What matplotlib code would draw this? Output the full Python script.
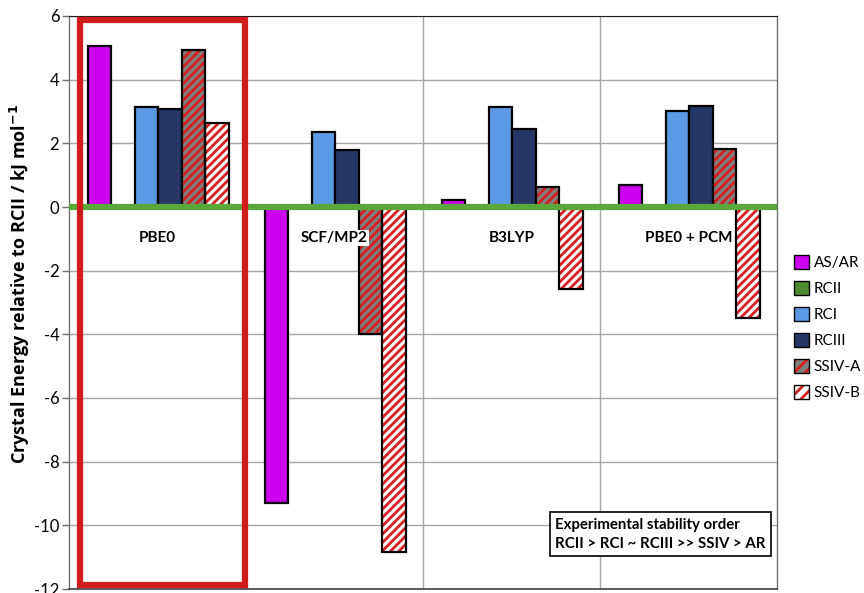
import matplotlib
matplotlib.use("Agg")
import matplotlib.pyplot as plt
import numpy as np
from matplotlib.patches import Rectangle

plt.rcParams['font.family'] = ['Lato', 'DejaVu Sans']
plt.rcParams['hatch.linewidth'] = 2.0

methods = ["PBE0", "SCF/MP2", "B3LYP", "PBE0 + PCM"]
series = ["AS/AR", "RCII", "RCI", "RCIII", "SSIV-A", "SSIV-B"]
as_ar = [5.05, -9.31, 0.22, 0.70]
rcii = [0.0, 0.0, 0.0, 0.0]
rci = [3.14, 2.36, 3.15, 3.01]
rciii = [3.08, 1.79, 2.45, 3.18]
ssiv_a = [4.92, -3.98, 0.62, 1.82]
ssiv_b = [2.64, -10.84, -2.58, -3.48]
values = [as_ar, rcii, rci, rciii, ssiv_a, ssiv_b]

yticks = [-12, -10, -8, -6, -4, -2, 0, 2, 4, 6]

fills = ["#cc00ee", "#4e8a2e", "#5b9be6", "#253865", "#7f7f7f", "#ffffff"]
hatches = [None, None, None, None, "////", "////"]
hatch_red = "#d42020"

fig = plt.figure(figsize=(8.64, 5.93), dpi=100)
ax = fig.add_axes([69/864, 4/593, (777-69)/864, (589-16)/593])

x = np.arange(len(methods))
width = 0.133
offsets = (np.arange(len(series)) - 2.5) * width + 0.005

handles = []
for i, (name, vals) in enumerate(zip(series, values)):
    pos = x + offsets[i]
    if hatches[i]:
        ax.bar(pos, vals, width, color=fills[i], edgecolor=hatch_red,
               hatch=hatches[i], linewidth=0, zorder=3)
        ax.bar(pos, vals, width, facecolor="none", edgecolor="black",
               linewidth=1.6, zorder=4)
        h = (Rectangle((0, 0), 1, 1, facecolor=fills[i], edgecolor=hatch_red,
                       hatch="///", linewidth=0),
             Rectangle((0, 0), 1, 1, facecolor="none", edgecolor="black",
                       linewidth=1.0))
    else:
        ax.bar(pos, vals, width, color=fills[i], edgecolor="black",
               linewidth=1.6, zorder=3)
        h = Rectangle((0, 0), 1, 1, facecolor=fills[i], edgecolor="black",
                      linewidth=1.0)
    handles.append(h)

ax.set_xlim(-0.5, 3.5)
ax.set_ylim(-12, 6)
ax.set_yticks(yticks)
ax.set_yticklabels([str(t) for t in yticks], fontsize=12)
ax.set_xticks([])

# group separators and horizontal grid
for xb in [0.5, 1.5, 2.5]:
    ax.axvline(xb, color="#a6a6a6", lw=1.0, zorder=1)
ax.yaxis.grid(True, color="#a6a6a6", lw=1.0, zorder=1)
ax.set_axisbelow(True)

# zero axis line
ax.axhline(0, color="#5aa83c", lw=4.5, zorder=5)

for sp in ["left", "right"]:
    ax.spines[sp].set_color("#707070")
    ax.spines[sp].set_linewidth(1.0)
ax.spines["top"].set_color("#202020")
ax.spines["bottom"].set_color("#404040")
ax.spines["bottom"].set_linewidth(1.2)
ax.tick_params(axis="y", length=5, width=1, color="#707070", pad=2)

for xi, m in zip(x, methods):
    ax.text(xi, -0.97, m, ha="center", va="center", fontsize=11,
            fontweight="bold", zorder=6,
            bbox=dict(facecolor="white", edgecolor="none", pad=1.0))

ax.set_ylabel("Crystal Energy relative to RCII / kJ mol$^{\\mathbf{-1}}$",
              fontsize=13, fontweight="bold", family=["Open Sans", "DejaVu Sans"])
ax.yaxis.set_label_coords(-0.052, 0.532)

# highlight box around the PBE0 group
ax.add_patch(Rectangle((-0.438, -11.89), 0.932, 17.77, fill=False,
                       edgecolor="#d01c1c", lw=4.5, zorder=7, clip_on=False))

ax.text(0.687, 0.066,
        "Experimental stability order\nRCII > RCI ~ RCIII >> SSIV > AR",
        transform=ax.transAxes, fontsize=10.8, fontweight="bold",
        ha="left", va="bottom", linespacing=1.5, zorder=8,
        bbox=dict(facecolor="white", edgecolor="black", lw=1.2,
                  boxstyle="square,pad=0.35"))

fig.legend(handles, series, loc="upper left", bbox_to_anchor=(794/864, 1 - 255/593),
           frameon=False, fontsize=11, handlelength=1.0, handleheight=1.0,
           handletextpad=0.3, labelspacing=0.72, borderpad=0, borderaxespad=0)

fig.savefig("out.png", dpi=100)
